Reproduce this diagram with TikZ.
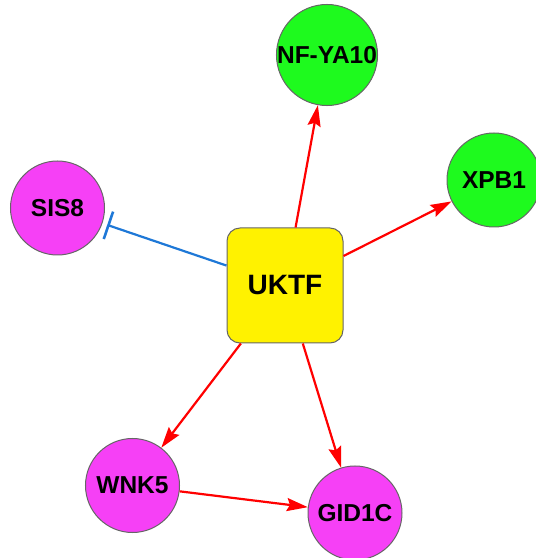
\documentclass[tikz,border=0pt]{standalone}
\usepackage{fontspec}
\setmainfont{Liberation Sans}
\usetikzlibrary{arrows.meta}
\definecolor{nodegreen}{RGB}{30,250,30}
\definecolor{nodepink}{RGB}{246,64,246}
\definecolor{edgeblue}{RGB}{30,120,215}
\tikzset{
  gene/.style={circle, draw=gray!80!black, line width=1pt, minimum size=94pt,
    inner sep=0pt, font=\fontsize{24.5}{24.5}\selectfont\bfseries},
  target/.style={gene, fill=nodegreen},
  partner/.style={gene, fill=nodepink},
  hub/.style={draw=gray!80!black, line width=1pt, fill=yellow, rounded corners=13pt,
    minimum width=116pt, minimum height=115pt, font=\fontsize{28}{28}\selectfont\bfseries},
  activates/.style={red, line width=2.2pt, -{Stealth[length=21pt,width=13pt,inset=3pt]}},
  represses/.style={edgeblue, line width=2.2pt, -{Bar[width=29pt,line width=2.6pt]}, shorten >=5pt}
}
\begin{document}
\begin{tikzpicture}[x=1pt,y=1pt]
  \useasboundingbox (0,0) rectangle (536,558);
  % transcription factor and its neighbours
  \node[hub] (uktf) at (285,272.5) {UKTF};
  \node[target] (nfya) at (327,503) {NF-YA10};
  \node[target] (xpb) at (494,378) {XPB1};
  \node[partner] (sis) at (57.5,350) {SIS8};
  \node[partner] (wnk) at (132.5,72.5) {WNK5};
  \node[partner] (gid) at (355,45) {GID1C};
  % edges
  \draw[activates] (uktf) -- (nfya);
  \draw[activates] (uktf) -- (xpb);
  \draw[activates] (uktf) -- (wnk);
  \draw[activates] (uktf) -- (gid);
  \draw[activates] (wnk) -- (gid);
  \draw[represses] (uktf) -- (sis);
\end{tikzpicture}
\end{document}
